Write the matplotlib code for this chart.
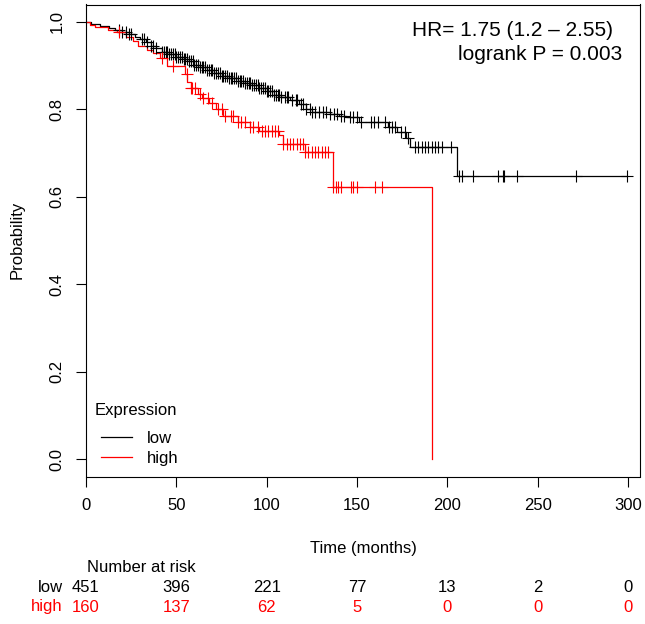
import numpy as np
import matplotlib.pyplot as plt
from matplotlib import transforms
from matplotlib.lines import Line2D

plt.rcParams['font.family'] = ['Liberation Sans', 'DejaVu Sans']

# Kaplan-Meier steps: (time in months, survival after the drop)
low_t = [0, 3, 8, 13, 16, 20, 24, 27, 30, 33, 36, 39, 42, 46, 50, 54, 57, 60, 63, 67,
         71, 75, 79, 84, 88, 92, 96, 100, 104, 108, 113, 118, 122, 125, 135, 140, 144,
         151, 167, 172, 177, 179.5, 205.5, 299.2]
low_s = [1.0, 0.995, 0.991, 0.986, 0.982, 0.978, 0.972, 0.966, 0.960, 0.954, 0.946,
         0.940, 0.932, 0.926, 0.921, 0.915, 0.910, 0.902, 0.896, 0.889, 0.883, 0.876,
         0.871, 0.866, 0.861, 0.856, 0.849, 0.842, 0.834, 0.828, 0.822, 0.812, 0.802,
         0.794, 0.790, 0.786, 0.782, 0.771, 0.760, 0.748, 0.735, 0.713, 0.648, 0.648]
low_cens = [18, 20, 22, 24, 25, 31, 32, 34, 36, 37, 39, 42, 43, 44, 45, 46, 47, 48, 49,
            50, 51, 52, 53, 54, 55, 56, 57, 58, 59, 60, 61, 62, 63, 64, 65, 66, 67, 68,
            69, 70, 71, 72, 73, 74, 75, 76, 77, 78, 79, 80, 81, 82, 83, 84, 85, 86, 87,
            88, 89, 90, 91, 92, 93, 94, 95, 96, 97, 98, 99, 100, 101, 102, 103, 104,
            105, 106, 107, 108, 110, 111, 112, 114, 116, 117, 119, 120, 122, 124, 125,
            127, 129, 131, 133, 135, 137, 139, 141, 143, 146, 148, 150, 152, 157.7,
            159.5, 161.4, 165.5, 167.7, 169.2, 171, 174.3, 176.5, 178.4, 182, 184, 186,
            187.6, 189.4, 191.3, 193, 195, 197, 202, 206.4, 207.9, 214, 228.2, 230.6,
            231.5, 238.3, 271.2, 299.2]

high_t = [0, 2, 5, 12, 17, 22, 26, 29, 34, 37, 41, 45, 55, 56, 58, 62, 64, 68, 72, 76,
          84, 91, 96, 107, 109, 121, 136.5, 191.3]
high_s = [1.0, 0.994, 0.988, 0.982, 0.976, 0.966, 0.957, 0.946, 0.937, 0.928, 0.918,
          0.900, 0.882, 0.862, 0.849, 0.835, 0.826, 0.815, 0.800, 0.785, 0.771, 0.760,
          0.750, 0.741, 0.720, 0.703, 0.622, 0.0]
high_cens = [18, 42, 48, 55.7, 58, 58.5, 60.3, 63, 65, 67.5, 69.5, 73, 75, 77, 80, 81.5,
             84, 86, 88, 91, 92.6, 95.4, 97.2, 99, 100.9, 102.8, 104.6, 106.4, 109, 111,
             113, 114.7, 116.6, 118.4, 120.3, 121.2, 123, 125, 126.7, 128.6, 130.4,
             132.3, 134, 136.9, 138.2, 139.6, 141.1, 146.6, 147.9, 149.8, 160, 164]

risk_times = [0, 50, 100, 150, 200, 250, 300]
risk_low = [451, 396, 221, 77, 13, 2, 0]
risk_high = [160, 137, 62, 5, 0, 0, 0]

hr_text = 'HR= 1.75 (1.2 \u2013 2.55)'
p_text = 'logrank P = 0.003'

RED = '#ff0000'
FS = 12
W, H = 645, 624


def fx(px):
    return px / W


def fy(py):
    return 1 - py / H


def surv_at(times, steps, vals):
    idx = np.searchsorted(np.array(steps), np.array(times), side='right') - 1
    return np.array(vals)[idx]


fig = plt.figure(figsize=(W / 100, H / 100), dpi=100)
ax = fig.add_axes([fx(86), fy(476.5), fx(640) - fx(86), fy(4.5) - fy(476.5)])

ax.step(low_t, low_s, where='post', color='black', lw=0.9)
ax.step(high_t, high_s, where='post', color=RED, lw=0.9)
ax.plot(low_cens, surv_at(low_cens, low_t, low_s), '+', color='black', ms=8.5, mew=0.8)
ax.plot(high_cens, surv_at(high_cens, high_t, high_s), '+', color=RED, ms=8.5, mew=0.8)

ax.set_xlim(0, 306.6)
ax.set_ylim(-0.04, 1.04)
ax.set_xticks(risk_times)
ax.set_yticks([0, 0.2, 0.4, 0.6, 0.8, 1.0])
ax.set_yticklabels(['0.0', '0.2', '0.4', '0.6', '0.8', '1.0'], rotation=90, va='center')
ax.tick_params(direction='out', length=7.5, width=0.8, labelsize=FS, pad=8)
for sp in ax.spines.values():
    sp.set_linewidth(0.8)

handles = [Line2D([], [], color='black', lw=0.9), Line2D([], [], color=RED, lw=0.9)]
ax.legend(handles, ['low', 'high'], loc='upper left',
          bbox_to_anchor=(fx(101), fy(431)), bbox_transform=fig.transFigure,
          frameon=False, borderpad=0, borderaxespad=0,
          handlelength=1.86, handletextpad=0.9, labelspacing=0.3, fontsize=FS)
fig.text(fx(95), fy(410.7), 'Expression', ha='left', va='center', fontsize=FS)

fig.text(fx(412), fy(31), hr_text, ha='left', va='center', fontsize=15)
fig.text(fx(458), fy(55), p_text, ha='left', va='center', fontsize=15)

fig.text(fx(17), fy(240), 'Probability', rotation=90, ha='center', va='center', fontsize=FS)
fig.text(fx(363), fy(548), 'Time (months)', ha='center', va='center', fontsize=FS)
fig.text(fx(87), fy(568), 'Number at risk', ha='left', va='center', fontsize=FS)
fig.text(fx(62.5), fy(588), 'low', ha='right', va='center', fontsize=FS)
fig.text(fx(62.5), fy(607), 'high', ha='right', va='center', fontsize=FS, color=RED)

# risk counts under the ticks of the time axis
tr = transforms.blended_transform_factory(ax.transData, fig.transFigure)
for t, a, b in zip(risk_times, risk_low, risk_high):
    ax.text(t, fy(588), str(a), ha='center', va='center', fontsize=FS, transform=tr,
            clip_on=False)
    ax.text(t, fy(607), str(b), ha='center', va='center', fontsize=FS, color=RED,
            transform=tr, clip_on=False)

fig.savefig('out.png', dpi=100)
